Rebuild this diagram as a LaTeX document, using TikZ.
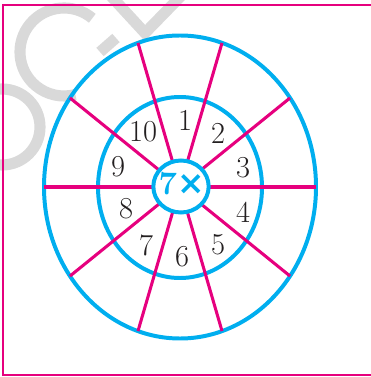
\documentclass[tikz,border=0pt]{standalone}
\usepackage{fontspec}
\newfontfamily\crossfont{DejaVu Sans}
\usetikzlibrary{shapes.geometric}
\definecolor{ringcyan}{RGB}{0,174,239}
\definecolor{spokepink}{RGB}{230,0,126}
\definecolor{stampgrey}{RGB}{217,217,217}
\definecolor{inkblack}{RGB}{35,31,32}
\begin{document}
\begin{tikzpicture}[
    x=0.03cm, y=-0.03cm,
    ring/.style={draw=ringcyan, line width=3.4pt},
    spoke/.style={draw=spokepink, line width=2.6pt},
    num/.style={font=\fontsize{26}{30}\selectfont, text=inkblack},
    stamp/.style={draw=stampgrey, line width=9.5pt}
]
    \useasboundingbox (0,0) rectangle (370,377);

    % faint stamp behind the figure
    \begin{scope}
        \clip (0,0) rectangle (370,377);
        \draw[stamp] (64,52) ++(-50:44) arc[start angle=-50, end angle=-285, radius=44];
        \draw[stamp] (2,127) circle[radius=38];
        \draw[stamp, line join=miter] (110,-5) -- (145,33) -- (182,-5);
        \draw[stamp] (100,52) -- (116,38);
    \end{scope}

    % frame (right side runs off the page)
    \draw[spokepink, line width=1.7pt] (376,5) -- (3,5) -- (3,375) -- (376,375);

    % the two rings
    \coordinate (c) at (180,187);
    \draw[ring] (c) ellipse[x radius=136, y radius=151.5];
    \draw[ring] (180,187.5) ellipse[x radius=82, y radius=90.5];

    % spokes, one every 36 degrees
    \foreach \k in {0,...,9} {
        \path (c) ++({136*cos(36*\k)}, {-151.5*sin(36*\k)}) coordinate (rim\k);
        \draw[spoke] (c) -- (rim\k);
    }

    % hub
    \node[ellipse, ring, fill=white, minimum width=1.66cm, minimum height=1.56cm, inner sep=0pt] (hub) at (181,186.5) {};
    \node[font=\fontsize{28}{32}\selectfont\bfseries, text=ringcyan, inner sep=0pt, anchor=base] (hublabel) at (182,195) {7\kern0.5pt{\crossfont\bfseries ×}};

    % sector numbers
    \node[num] (n1) at (185,120) {1};
    \node[num] (n2) at (218,133) {2};
    \node[num] (n3) at (243,168) {3};
    \node[num] (n4) at (243,212) {4};
    \node[num] (n5) at (218,245) {5};
    \node[num] (n6) at (182,257) {6};
    \node[num] (n7) at (146,245) {7};
    \node[num] (n8) at (126,209) {8};
    \node[num] (n9) at (118,167) {9};
    \node[num] (n10) at (143,132) {10};
\end{tikzpicture}
\end{document}
